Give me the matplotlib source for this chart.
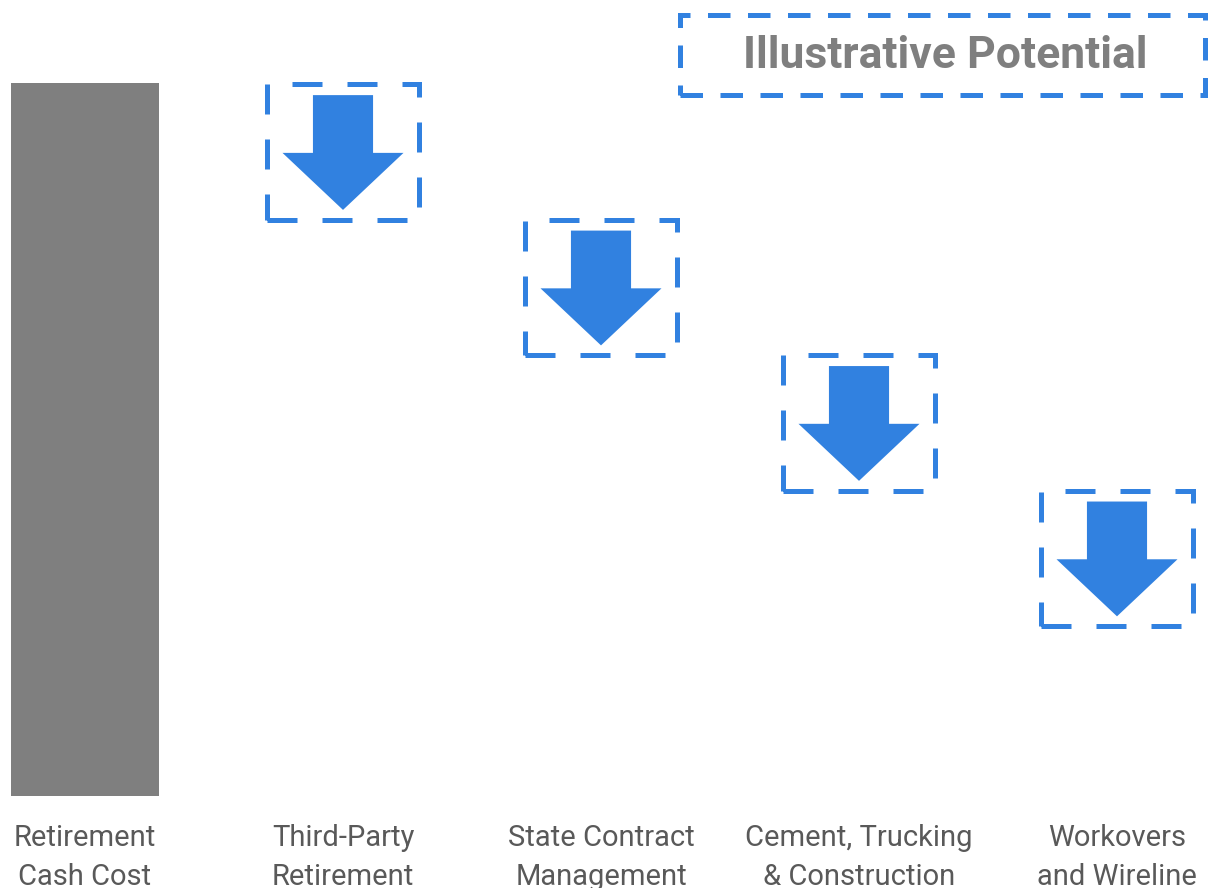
import matplotlib.pyplot as plt
from matplotlib.patches import Rectangle

# categories and values (start bar = 100, then the illustrative reductions)
categories = ["Retirement\nCash Cost", "Third-Party\nRetirement", "State Contract\nManagement",
              "Cement, Trucking\n& Construction", "Workovers\nand Wireline"]
start_value = 100
reductions = [19, 19, 19, 19]

blue = "#3181e0"
grey = "#7f7f7f"
font = ["Roboto", "DejaVu Sans"]

fig = plt.figure(figsize=(12.09, 8.88), dpi=100)
ax = fig.add_axes([0, 92 / 888, 1, 796 / 888])
ax.set_xlim(-85 / 258, (1209 - 85) / 258)
ax.set_ylim(0, 796 / 7.13)
for s in ax.spines.values():
    s.set_visible(False)
ax.set_yticks([])

# starting bar
ax.bar(0, start_value, width=0.574, color=grey, align="center")

# dashed boxes with down arrows
level = start_value
for i, r in enumerate(reductions, start=1):
    top = level
    bottom = level - r
    ax.add_patch(Rectangle((i - 0.293, bottom - 0.2), 0.586, r, fill=False,
                           edgecolor=blue, linewidth=3.6, linestyle=(0, (6, 5))))
    a_top = top - 1.7
    ax.arrow(i, a_top, 0, -16.1, width=0.233, head_width=0.469, head_length=8.0,
             length_includes_head=True, color=blue, linewidth=0)
    level = bottom

ax.set_xticks(range(len(categories)))
ax.set_xticklabels(categories, fontsize=21, color="#595959", family=font, linespacing=1.5)
ax.tick_params(axis="x", length=0, pad=20)

# "Illustrative Potential" box
fig.patches.append(Rectangle((680 / 1209, 1 - 95 / 888), (1205 - 680) / 1209, 80 / 888,
                             transform=fig.transFigure, fill=False, edgecolor=blue,
                             linewidth=3.6, linestyle=(0, (4.5, 3.5))))
fig.text(945 / 1209, 1 - 56 / 888, "Illustrative Potential", ha="center", va="center",
         fontsize=32, fontweight="bold", color=grey, family=font)

fig.savefig("out.png", dpi=100)
